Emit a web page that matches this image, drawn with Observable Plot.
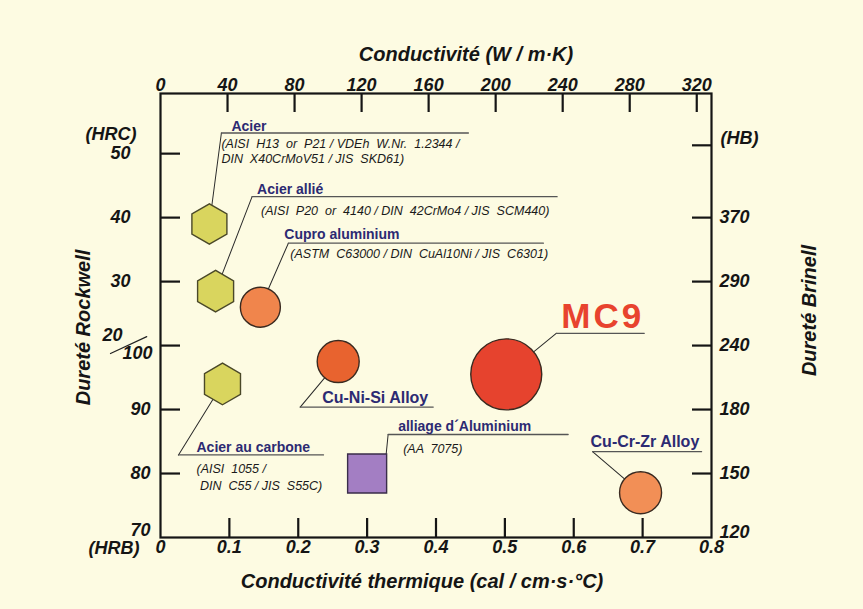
<!DOCTYPE html>
<html>
<head>
<meta charset="utf-8">
<script src="https://cdn.jsdelivr.net/npm/d3@7"></script>
<script src="https://cdn.jsdelivr.net/npm/@observablehq/plot@0.6"></script>
<style>
html, body { margin: 0; padding: 0; background: #fdfbe2; }
#chart svg { display: block; }
g[aria-description="mc9"] text { letter-spacing: 3px; }
</style>
</head>
<body>
<div id="chart"></div>
<script>
// ---------- data ----------
const materials = ["Acier", "Acier allié", "Cupro aluminium", "Acier au carbone",
  "Cu-Ni-Si Alloy", "alliage d´Aluminium", "MC9", "Cu-Cr-Zr Alloy"];
const specs = [
  "(AISI  H13  or  P21 / VDEh  W.Nr.  1.2344 /\nDIN  X40CrMoV51 / JIS  SKD61)",
  "(AISI  P20  or  4140 / DIN  42CrMo4 / JIS  SCM440)",
  "(ASTM  C63000 / DIN  CuAl10Ni / JIS  C6301)",
  "(AISI  1055 /\n DIN  C55 / JIS  S55C)",
  "",
  "(AA  7075)",
  "",
  ""
];
const conductivityCal = [0.071, 0.080, 0.145, 0.090, 0.258, 0.300, 0.502, 0.697]; // cal / cm·s·°C
const hardnessScale = ["HRC", "HRC", "HRC", "HRB", "HRB", "HRB", "HRB", "HRB"];
const hardnessValue = [39, 28.5, 26, 94, 97.5, 80, 95.5, 77];

const calTicks = [0, 0.1, 0.2, 0.3, 0.4, 0.5, 0.6, 0.7, 0.8];
const wTicks = [0, 40, 80, 120, 160, 200, 240, 280, 320];
const wPerCal = 411; // W/m·K per cal/cm·s·°C as drawn on the chart
const hrbTicks = [70, 80, 90, 100];
const hrcTicks = [20, 30, 40, 50];
const brinellTicks = ["120", "150", "180", "240", "290", "370", ""];
const brinellOnRockwell = [["HRB", 70], ["HRB", 80], ["HRB", 90], ["HRC", 20], ["HRC", 30], ["HRC", 40], ["HRC", 51.3]];

// HRC 20 coincides with HRB 100 on the combined Rockwell axis
const rockwellPos = (scale, v) => scale === "HRC" ? v + 80 : v;

const data = materials.map((name, i) => ({
  name, spec: specs[i], x: conductivityCal[i], y: rockwellPos(hardnessScale[i], hardnessValue[i])
}));

// ---------- styles / annotation layout (pixels relative to marker) ----------
const hexFill = "#d9d55e", hexStroke = "#4a4828", navy = "#2c2a72";
const layout = {
  "Acier":              {symbol: "hexagon", r: 17.5, fill: hexFill, stroke: hexStroke, ax: 12, ay: -91, len: 247, nx: 10, ny: -2, sx: 0, sy: 5, lh: 1.15},
  "Acier allié":        {symbol: "hexagon", r: 18, fill: hexFill, stroke: hexStroke, ax: 36.5, ay: -94.5, len: 305, nx: 5, ny: -3, sx: 9, sy: 8, lh: 1.15},
  "Cupro aluminium":    {symbol: "circle", r: 20, fill: "#f0854c", stroke: "#3a2a20", ax: 28, ay: -64, len: 255, nx: -4, ny: -4, sx: 2, sy: 5, lh: 1.15},
  "Acier au carbone":   {symbol: "hexagon", r: 18, fill: hexFill, stroke: hexStroke, ax: -44, ay: 71, len: 145, nx: 18, ny: -3, sx: 18, sy: 7, lh: 1.3},
  "Cu-Ni-Si Alloy":     {symbol: "circle", r: 21, fill: "#e8632f", stroke: "#3a2a20", ax: -38, ay: 45.5, len: 133, nx: 22, ny: -4, sx: 0, sy: 0, lh: 1.2, nameSize: 16},
  "alliage d´Aluminium": {symbol: "square", r: 22, fill: "#a37ec3", stroke: "#3a2d4a", ax: 21, ay: -39, len: 180, nx: 10, ny: -4, sx: 15, sy: 8, lh: 1.2, tx: 19, ty: -19},
  "MC9":                {symbol: "circle", r: 35.5, fill: "#e6432e", stroke: "#3a2a20", ax: 50, ay: -41, len: 88, nx: 5, ny: -5, sx: 0, sy: 0, lh: 1.2, nameColor: "#e8432e", nameSize: 35},
  "Cu-Cr-Zr Alloy":     {symbol: "circle", r: 21, fill: "#f28f56", stroke: "#3a2a20", ax: -48, ay: -41, len: 109, nx: -2, ny: -5, sx: 0, sy: 0, lh: 1.2, nameSize: 16}
};

const lineShape = {draw(ctx, l) { ctx.moveTo(0, 0); ctx.lineTo(0, -l); }};
const font = "Liberation Sans, Arial, Helvetica, sans-serif";
const FW = 863 - 160 - 152, FH = 609 - 93 - 72;
const tickLen = 19;

const leaderMarks = [], dotMarks = [], labelMarks = [];
for (const d of data) {
  const s = layout[d.name];
  const tx = s.tx ?? 0, ty = s.ty ?? 0;
  const vx = s.ax - tx, vy = s.ay - ty;
  leaderMarks.push(
    Plot.vector([d], {x: "x", y: "y", dx: tx, dy: ty, length: Math.hypot(vx, vy),
      rotate: Math.atan2(vx, -vy) * 180 / Math.PI, anchor: "start", shape: lineShape,
      stroke: "#2a2a2a", strokeWidth: 1}),
    Plot.vector([d], {x: "x", y: "y", dx: s.ax, dy: s.ay, length: s.len, rotate: 90,
      anchor: "start", shape: lineShape, stroke: "#555", strokeWidth: 1.3})
  );
  dotMarks.push(Plot.dot([d], {x: "x", y: "y", symbol: s.symbol, r: s.r, fill: s.fill,
    stroke: s.stroke, strokeWidth: 1.4}));
  labelMarks.push(Plot.text([d], {x: "x", y: "y", text: "name", dx: s.ax + s.nx, dy: s.ay + s.ny,
    textAnchor: "start", lineAnchor: "bottom", fill: s.nameColor ?? navy,
    fontWeight: "bold", fontSize: s.nameSize ?? 14, fontFamily: font,
    ariaDescription: d.name === "MC9" ? "mc9" : "name"}));
  if (d.spec) labelMarks.push(Plot.text([d], {x: "x", y: "y", text: "spec", dx: s.ax + s.sx, dy: s.ay + s.sy,
    textAnchor: "start", lineAnchor: "top", lineHeight: s.lh, fill: "#1a1a1a",
    fontStyle: "italic", fontSize: 12.5, fontFamily: font}));
}

const tickText = {fontFamily: font, fontSize: 18, fontWeight: "bold", fontStyle: "italic", fill: "#151515"};
const titleText = {...tickText, fontSize: 20, textAnchor: "middle"};
const tickStroke = {stroke: "#151515", strokeWidth: 2.2};

const chart = Plot.plot({
  width: 863, height: 609,
  marginLeft: 160, marginRight: 152, marginTop: 93, marginBottom: 72,
  x: {domain: [0, 0.8], axis: null},
  y: {domain: [70, 139.4], axis: null},
  style: {background: "transparent", fontFamily: font},
  marks: [
    // inward ticks
    Plot.ruleX(calTicks.slice(1, -1), {x: d => d, insetTop: FH - tickLen, ...tickStroke}),
    Plot.ruleX(wTicks.slice(1), {x: d => d / wPerCal, insetBottom: FH - tickLen, ...tickStroke}),
    Plot.ruleY([...hrbTicks.slice(1), ...hrcTicks.slice(1)].map((v, i) => i < 3 ? v : rockwellPos("HRC", v)),
      {y: d => d, insetRight: FW - 20, ...tickStroke}),
    Plot.ruleY(brinellOnRockwell.slice(1).map(([s, v]) => rockwellPos(s, v)),
      {y: d => d, insetLeft: FW - tickLen, ...tickStroke}),
    Plot.frame({stroke: "#151515", strokeWidth: 2.2}),

    // bottom axis labels (cal)
    Plot.text(calTicks, {x: d => d, frameAnchor: "bottom", dy: 15, text: d => String(d), ...tickText}),
    // top axis labels (W/m·K)
    Plot.text(wTicks, {x: d => d / wPerCal, frameAnchor: "top", dy: -15, text: d => String(d), ...tickText}),
    // left axis labels (Rockwell)
    Plot.text(hrbTicks.slice(1, 3), {y: d => d, frameAnchor: "left", dx: -10, textAnchor: "end", text: d => String(d), ...tickText}),
    Plot.text(hrbTicks.slice(0, 1), {y: d => d, frameAnchor: "left", dx: -10, dy: -7, textAnchor: "end", text: d => String(d), ...tickText}),
    Plot.text(hrcTicks.slice(1), {y: d => rockwellPos("HRC", d), frameAnchor: "left", dx: -30, textAnchor: "end", text: d => String(d), ...tickText}),
    Plot.text(hrcTicks.slice(0, 1), {y: d => rockwellPos("HRC", d), frameAnchor: "left", dx: -38, dy: -10, textAnchor: "end", text: d => String(d), ...tickText}),
    Plot.text(hrbTicks.slice(3), {y: d => d, frameAnchor: "left", dx: -8, dy: 8, textAnchor: "end", text: d => String(d), ...tickText}),
    Plot.vector(hrbTicks.slice(3), {y: d => d, frameAnchor: "left", dx: -50, dy: 8, length: 40, rotate: 65,
      anchor: "start", shape: lineShape, stroke: "#222", strokeWidth: 1.2}),
    Plot.text(["(HRC)"], {frameAnchor: "top-left", dx: -24, dy: 34, textAnchor: "end", text: d => d, ...tickText}),
    Plot.text(["(HRB)"], {frameAnchor: "bottom-left", dx: -21, dy: 16, textAnchor: "end", text: d => d, ...tickText}),
    // right axis labels (Brinell)
    Plot.text(brinellTicks.slice(1), {y: (d, i) => rockwellPos(...brinellOnRockwell[i + 1]), frameAnchor: "right", dx: 8, textAnchor: "start", text: d => d, ...tickText}),
    Plot.text(brinellTicks.slice(0, 1), {y: () => rockwellPos(...brinellOnRockwell[0]), frameAnchor: "right", dx: 8, dy: -5, textAnchor: "start", text: d => d, ...tickText}),
    Plot.text(["(HB)"], {frameAnchor: "top-right", dx: 9, dy: 38, textAnchor: "start", text: d => d, ...tickText}),

    // axis titles
    Plot.text(["Conductivité (W / m·K)"], {frameAnchor: "top", dx: 30, dy: -47, text: d => d, ...titleText}),
    Plot.text(["Conductivité thermique (cal / cm·s·°C)"], {frameAnchor: "bottom", dx: -14, dy: 50, text: d => d, ...titleText}),
    Plot.text(["Dureté Rockwell"], {frameAnchor: "left", dx: -77, dy: 12, rotate: -90, text: d => d, ...titleText}),
    Plot.text(["Dureté Brinell"], {frameAnchor: "right", dx: 98, dy: -5, rotate: -90, text: d => d, ...titleText}),

    ...leaderMarks,
    ...dotMarks,
    ...labelMarks
  ]
});
document.getElementById("chart").append(chart);
</script>
</body>
</html>
